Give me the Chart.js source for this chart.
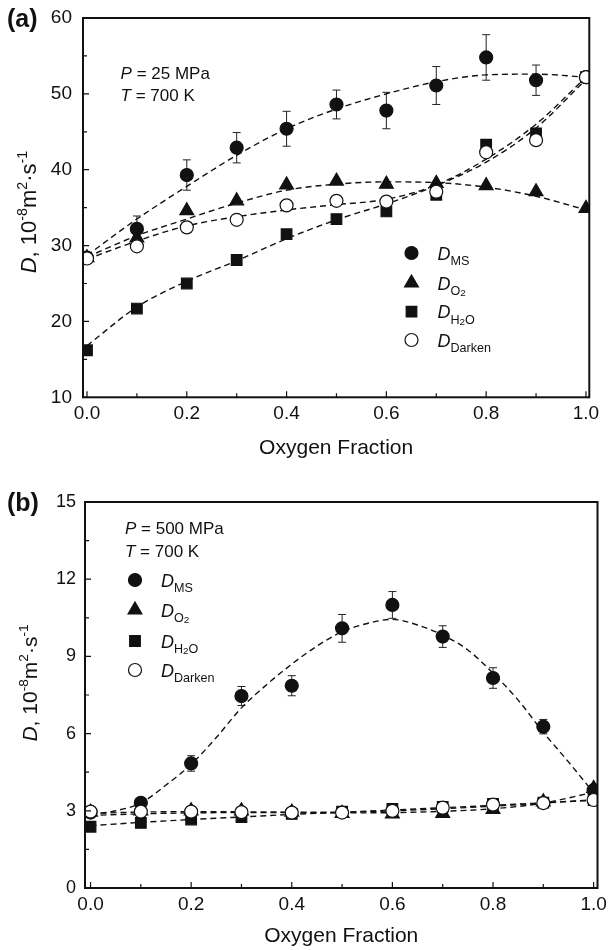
<!DOCTYPE html>
<html>
<head>
<meta charset="utf-8">
<script src="https://cdn.jsdelivr.net/npm/chart.js@4.4.1/dist/chart.umd.min.js"></script>
<style>
  body { margin: 0; background: #fff; }
  canvas { position: absolute; left: 0; }
</style>
</head>
<body>
<canvas id="chartA" width="611" height="470" style="top:0"></canvas>
<canvas id="chartB" width="611" height="480" style="top:470px"></canvas>
<script>
const FONT = '"Liberation Sans", Arial, Helvetica, sans-serif';
const INK = '#111';

// x values of the measured points
const oxygenFraction = [0, 0.1, 0.2, 0.3, 0.4, 0.5, 0.6, 0.7, 0.8, 0.9, 1.0];

// (a) P = 25 MPa, T = 700 K
const dMsA     = [28.4, 32.2, 39.3, 42.9, 45.4, 48.6, 47.8, 51.1, 54.8, 51.8, 52.2];
const dMsErrA  = [0, 1.7, 2.0, 2.0, 2.3, 1.9, 2.4, 2.5, 3.0, 2.0, 0];
const dO2A     = [28.4, 31.0, 34.6, 35.9, 38.0, 38.5, 38.1, 38.2, 37.9, 37.1, 34.9];
const dH2oA    = [16.2, 21.7, 25.0, 28.1, 31.5, 33.5, 34.5, 36.7, 43.3, 44.8, 52.2];
const dDarkenA = [28.3, 29.9, 32.4, 33.4, 35.3, 35.9, 35.8, 37.1, 42.3, 43.9, 52.2];
// dashed fit curves (a), read at every 0.1
const fitMsA     = [28.7, 33.5, 37.8, 41.9, 45.4, 48.0, 50.0, 51.6, 52.5, 52.6, 52.2];
const fitO2A     = [28.5, 31.3, 33.5, 35.6, 37.3, 38.1, 38.4, 38.3, 37.7, 36.5, 34.7];
const fitH2oA    = [16.8, 21.9, 25.3, 28.0, 30.9, 33.4, 35.5, 37.9, 41.0, 45.5, 51.9];
const fitDarkenA = [28.2, 30.6, 32.6, 33.8, 34.7, 35.4, 36.1, 38.0, 41.4, 46.0, 52.2];

// (b) P = 500 MPa, T = 700 K
const dMsB     = [2.93, 3.31, 4.84, 7.46, 7.86, 10.09, 11.0, 9.77, 8.16, 6.27, 3.8];
const dMsErrB  = [0, 0.15, 0.3, 0.37, 0.39, 0.54, 0.52, 0.42, 0.4, 0.28, 0];
const dO2B     = [2.95, 3.0, 3.0, 3.0, 2.95, 2.9, 2.88, 2.9, 3.05, 3.35, 3.87];
const dH2oB    = [2.38, 2.53, 2.66, 2.76, 2.88, 2.97, 3.07, 3.15, 3.27, 3.32, 3.42];
const dDarkenB = [2.97, 2.97, 2.97, 2.95, 2.93, 2.93, 3.0, 3.12, 3.24, 3.3, 3.42];
// fit curves (b); the MS fit is read every 0.05
const fitFractionB = [0, 0.05, 0.1, 0.15, 0.2, 0.25, 0.3, 0.35, 0.4, 0.45, 0.5,
                      0.55, 0.6, 0.65, 0.7, 0.75, 0.8, 0.85, 0.9, 0.95, 1.0];
const fitMsB     = [2.85, 3.0, 3.3, 4.0, 4.8, 5.85, 7.0, 7.9, 8.7, 9.4, 9.96,
                    10.28, 10.44, 10.22, 9.83, 9.25, 8.35, 7.3, 6.05, 4.9, 3.7];
const fitO2B     = [2.82, 2.88, 2.92, 2.93, 2.93, 2.92, 2.93, 2.98, 3.08, 3.3, 3.72];
const fitH2oB    = [2.42, 2.55, 2.66, 2.76, 2.86, 2.94, 3.03, 3.12, 3.21, 3.31, 3.42];
const fitDarkenB = [2.9, 2.95, 2.97, 2.96, 2.95, 2.95, 3.0, 3.08, 3.18, 3.3, 3.42];

// axis ticks
const xTicks = [0, 0.2, 0.4, 0.6, 0.8, 1.0];
const xMinor = [0.1, 0.3, 0.5, 0.7, 0.9];
const yTicksA = [10, 20, 30, 40, 50, 60];
const yMinorA = [15, 25, 35, 45, 55];
const yTicksB = [0, 3, 6, 9, 12, 15];
const yMinorB = [1.5, 4.5, 7.5, 10.5, 13.5];

const markStyles = {
  ms:     { pointStyle: 'circle',   radius: 6.5, fill: INK },
  o2:     { pointStyle: 'triangle', radius: 8,   fill: INK },
  h2o:    { pointStyle: 'rect',     radius: 7.5, fill: INK },
  darken: { pointStyle: 'circle',   radius: 6.5, fill: '#fff' }
};

const legendRows = [
  { key: 'ms',     sub: [['MS', 1]] },
  { key: 'o2',     sub: [['O', 1], ['2', 2]] },
  { key: 'h2o',    sub: [['H', 1], ['2', 2], ['O', 1]] },
  { key: 'darken', sub: [['Darken', 1]] }
];

// draw a run of text parts: {t, i: italic, s: 0 normal / 1 sub / 2 small sub / 3 sup}
function drawRich(ctx, parts, x, y, size, align) {
  const sz = p => p.s === 1 ? size * 0.7 : p.s === 2 ? size * 0.55 : p.s === 3 ? size * 0.65 : size;
  const fontOf = p => (p.i ? 'italic ' : '') + sz(p).toFixed(1) + 'px ' + FONT;
  let w = 0;
  parts.forEach(p => { ctx.font = fontOf(p); p.w = ctx.measureText(p.t).width; w += p.w; });
  let cx = align === 'center' ? x - w / 2 : x;
  ctx.textAlign = 'left';
  ctx.textBaseline = 'alphabetic';
  parts.forEach(p => {
    ctx.font = fontOf(p);
    const dy = p.s === 1 ? size * 0.32 : p.s === 2 ? size * 0.36 : p.s === 3 ? -size * 0.42 : 0;
    ctx.fillText(p.t, cx, y + dy);
    cx += p.w;
  });
}

function drawMark(ctx, key, x, y) {
  const m = markStyles[key];
  ctx.save();
  ctx.fillStyle = m.fill;
  ctx.strokeStyle = INK;
  ctx.lineWidth = 1.2;
  Chart.helpers.drawPoint(ctx, { pointStyle: m.pointStyle, radius: m.radius, rotation: 0, borderWidth: 1.2 }, x, y);
  ctx.restore();
}

const decorPlugin = {
  id: 'decor',
  beforeDatasetsDraw(chart) {
    const p = chart.options.plugins.decor;
    const { ctx } = chart;
    const xs = chart.scales.x, ys = chart.scales.y;
    ctx.save();
    ctx.strokeStyle = '#222';
    ctx.lineWidth = 1;
    p.errValues.forEach((v, i) => {
      const e = p.errs[i];
      if (!e) return;
      const px = xs.getPixelForValue(oxygenFraction[i]);
      const top = ys.getPixelForValue(v + e), bot = ys.getPixelForValue(v - e);
      ctx.beginPath();
      ctx.moveTo(px, top); ctx.lineTo(px, bot);
      ctx.moveTo(px - 4, top); ctx.lineTo(px + 4, top);
      ctx.moveTo(px - 4, bot); ctx.lineTo(px + 4, bot);
      ctx.stroke();
    });
    ctx.restore();
  },
  afterDraw(chart) {
    const p = chart.options.plugins.decor;
    const { ctx, chartArea: a } = chart;
    const xs = chart.scales.x, ys = chart.scales.y;
    ctx.save();
    ctx.strokeStyle = INK;
    // inward ticks on the bottom and left axes
    ctx.lineWidth = 1.2;
    ctx.beginPath();
    xTicks.forEach(v => { const px = xs.getPixelForValue(v); ctx.moveTo(px, a.bottom); ctx.lineTo(px, a.bottom - 6); });
    xMinor.forEach(v => { const px = xs.getPixelForValue(v); ctx.moveTo(px, a.bottom); ctx.lineTo(px, a.bottom - 4); });
    p.yTicks.forEach(v => { const py = ys.getPixelForValue(v); ctx.moveTo(a.left, py); ctx.lineTo(a.left + 6, py); });
    p.yMinor.forEach(v => { const py = ys.getPixelForValue(v); ctx.moveTo(a.left, py); ctx.lineTo(a.left + 4, py); });
    ctx.stroke();
    // frame
    ctx.lineWidth = 2;
    ctx.strokeRect(a.left, a.top, a.right - a.left, a.bottom - a.top);

    ctx.fillStyle = INK;
    // panel letter
    ctx.font = 'bold 25px ' + FONT;
    ctx.textAlign = 'left';
    ctx.textBaseline = 'alphabetic';
    ctx.fillText(p.panel, 7, p.panelY);
    // conditions
    drawRich(ctx, [{ t: 'P', i: 1 }, { t: ' = ' + p.pressure }], p.noteX, p.noteY, 17);
    drawRich(ctx, [{ t: 'T', i: 1 }, { t: ' = 700 K' }], p.noteX, p.noteY + 22.5, 17);
    // legend
    legendRows.forEach((row, k) => {
      const y = p.legendY[k];
      drawMark(ctx, row.key, p.legendX, y);
      const parts = [{ t: 'D', i: 1 }].concat(row.sub.map(s => ({ t: s[0], s: s[1] })));
      drawRich(ctx, parts, p.legendX + 26, y + 6.5, 18);
    });
    // y axis title
    ctx.translate(p.yTitleX, p.yTitleY);
    ctx.rotate(-Math.PI / 2);
    drawRich(ctx, [{ t: 'D', i: 1 }, { t: ', 10' }, { t: '-8', s: 3 }, { t: 'm' }, { t: '2', s: 3 },
                   { t: '\u00b7s' }, { t: '-1', s: 3 }], 0, p.yTitleSize * 0.36, p.yTitleSize, 'center');
    ctx.restore();
  }
};

function buildChart(id, p) {
  const pts = arr => oxygenFraction.map((x, i) => ({ x, y: arr[i] }));
  const fit = (xs, arr) => ({
    data: xs.map((x, i) => ({ x, y: arr[i] })), showLine: true, borderColor: INK, borderWidth: 1.4,
    borderDash: [6, 4], pointRadius: 0, cubicInterpolationMode: 'monotone', order: 10
  });
  const marks = (arr, key, order) => {
    const m = markStyles[key];
    return {
      data: pts(arr), showLine: false, pointStyle: m.pointStyle, pointRadius: m.radius,
      backgroundColor: m.fill, borderColor: INK, borderWidth: 1.2, order
    };
  };
  return new Chart(document.getElementById(id), {
    type: 'scatter',
    data: {
      datasets: [
        fit(p.fitX, p.fits[0]), fit(oxygenFraction, p.fits[1]),
        fit(oxygenFraction, p.fits[2]), fit(oxygenFraction, p.fits[3]),
        marks(p.series[2], 'h2o', 4), marks(p.series[1], 'o2', 3),
        marks(p.series[0], 'ms', 2), marks(p.series[3], 'darken', 1)
      ]
    },
    options: {
      responsive: false,
      animation: false,
      events: [],
      layout: { padding: { left: 0, top: p.box.top, right: p.width - p.box.right, bottom: p.padBottom } },
      scales: {
        x: {
          type: 'linear', min: p.xMin, max: p.xMax,
          afterBuildTicks: s => { s.ticks = xTicks.map(v => ({ value: v })); },
          afterFit: s => { s.height = p.xAxisH; s.paddingLeft = 0; s.paddingRight = 0; },
          grid: { display: false, drawTicks: false },
          border: { display: false },
          ticks: { color: INK, font: { family: FONT, size: 19 }, padding: p.xTickPad, maxRotation: 0,
                   autoSkip: false, callback: v => v.toFixed(1) },
          title: { display: true, text: 'Oxygen Fraction', color: INK, font: { family: FONT, size: 21 }, padding: 0 }
        },
        y: {
          type: 'linear', min: p.yMin, max: p.yMax,
          afterBuildTicks: s => { s.ticks = p.yTicks.map(v => ({ value: v })); },
          afterFit: s => { s.width = p.box.left; s.paddingTop = 0; s.paddingBottom = 0; },
          grid: { display: false, drawTicks: false },
          border: { display: false },
          ticks: { color: INK, font: { family: FONT, size: p.yTickSize }, padding: p.yTickPad }
        }
      },
      plugins: {
        legend: { display: false },
        tooltip: { enabled: false },
        decor: p.decor
      }
    },
    plugins: [decorPlugin]
  });
}

buildChart('chartA', {
  width: 611, box: { left: 83, top: 18, right: 589.3 }, xAxisH: 63.6, padBottom: 9.1,
  xMin: -0.008, xMax: 1.0067, yMin: 10, yMax: 60, yTicks: yTicksA, xTickPad: 5, yTickPad: 11, yTickSize: 19,
  fitX: oxygenFraction,
  fits: [fitMsA, fitO2A, fitH2oA, fitDarkenA],
  series: [dMsA, dO2A, dH2oA, dDarkenA],
  decor: {
    panel: '(a)', panelY: 27, pressure: '25 MPa', noteX: 120.6, noteY: 78.8,
    legendX: 411.5, legendY: [253, 283, 311.7, 340],
    yTitleX: 28, yTitleY: 212, yTitleSize: 22,
    yTicks: yTicksA, yMinor: yMinorA, errs: dMsErrA, errValues: dMsA
  }
});

buildChart('chartB', {
  width: 611, box: { left: 85, top: 32, right: 597.5 }, xAxisH: 60.6, padBottom: 1.4,
  xMin: -0.011, xMax: 1.0077, yMin: 0, yMax: 15, yTicks: yTicksB, xTickPad: 5, yTickPad: 9, yTickSize: 18,
  fitX: fitFractionB,
  fits: [fitMsB, fitO2B, fitH2oB, fitDarkenB],
  series: [dMsB, dO2B, dH2oB, dDarkenB],
  decor: {
    panel: '(b)', panelY: 41, pressure: '500 MPa', noteX: 125, noteY: 64.4,
    legendX: 135, legendY: [110, 140, 171, 200],
    yTitleX: 29, yTitleY: 213, yTitleSize: 21,
    yTicks: yTicksB, yMinor: yMinorB, errs: dMsErrB, errValues: dMsB
  }
});
</script>
</body>
</html>
